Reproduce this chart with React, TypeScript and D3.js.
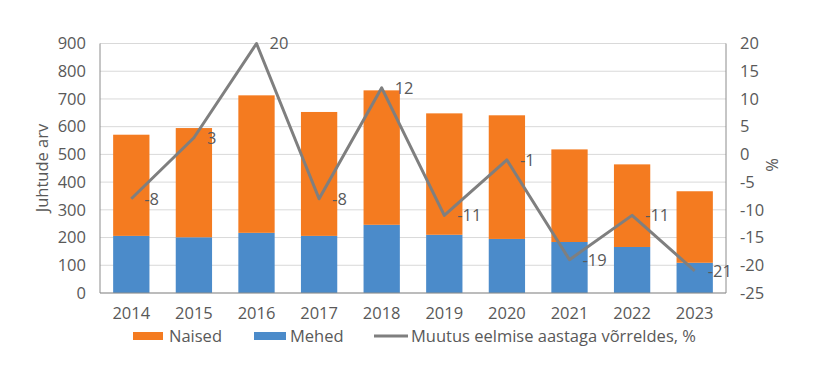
import React from "react";
import * as d3 from "d3";

const years = ["2014","2015","2016","2017","2018","2019","2020","2021","2022","2023"];
const mehed = [206, 201, 217, 206, 246, 210, 195, 184, 166, 109];
const naisedTotal = [571, 595, 713, 653, 731, 648, 641, 518, 464, 367];
const naised = naisedTotal.map((t, i) => t - mehed[i]);
const change = [-8, 3, 20, -8, 12, -11, -1, -19, -11, -21];
const leftTicks = [0, 100, 200, 300, 400, 500, 600, 700, 800, 900];
const rightTicks = [-25, -20, -15, -10, -5, 0, 5, 10, 15, 20];

const W = 827, H = 383;
const M = { left: 100, right: 726, top: 43.5, bottom: 293 };
const FONT = "'Open Sans', sans-serif";
const TXT = "#595959";
const ORANGE = "#F47B20";
const BLUE = "#4B8BCA";
const GREY = "#7F7F7F";

export default function App() {
  const x = d3.scaleBand().domain(years).range([M.left, M.right]).paddingInner(0.42).paddingOuter(0.21);
  const yL = d3.scaleLinear().domain([0, 900]).range([M.bottom, M.top]);
  const yR = d3.scaleLinear().domain([-25, 20]).range([M.bottom, M.top]);
  const cx = (y: string) => (x(y) as number) + x.bandwidth() / 2;
  const line = d3.line<number>().x((_, i) => cx(years[i])).y(d => yR(d));
  const fs = 16.5;
  return (
    <svg width={W} height={H} style={{ position: "absolute", left: 0, top: 0 }} fontFamily={FONT}>
      <rect width={W} height={H} fill="#fff" />
      {leftTicks.map(t => (
        <line key={t} x1={M.left} x2={M.right} y1={yL(t)} y2={yL(t)} stroke="#d9d9d9" strokeWidth={1} />
      ))}
      {years.map((y, i) => (
        <g key={y}>
          <rect x={x(y)} width={x.bandwidth()} y={yL(mehed[i])} height={yL(0) - yL(mehed[i])} fill={BLUE} />
          <rect x={x(y)} width={x.bandwidth()} y={yL(mehed[i] + naised[i])} height={yL(mehed[i]) - yL(mehed[i] + naised[i])} fill={ORANGE} />
        </g>
      ))}
      <line x1={M.left} x2={M.left} y1={M.top} y2={M.bottom} stroke="#8c8c8c" />
      <line x1={M.right} x2={M.right} y1={M.top} y2={M.bottom} stroke="#8c8c8c" />
      <line x1={M.left} x2={M.right} y1={M.bottom} y2={M.bottom} stroke="#8c8c8c" />
      <path d={line(change) || ""} fill="none" stroke={GREY} strokeWidth={3} strokeLinejoin="round" />
      {change.map((c, i) => (
        <text key={i} x={cx(years[i]) + 13} y={yR(c)} dy="0.35em" fontSize={fs} fill={TXT}>{c}</text>
      ))}
      {leftTicks.map(t => (
        <text key={t} x={M.left - 14} y={yL(t)} dy="0.35em" textAnchor="end" fontSize={fs} fill={TXT}>{t}</text>
      ))}
      {rightTicks.map(t => (
        <text key={t} x={M.right + 14} y={yR(t)} dy="0.35em" textAnchor="start" fontSize={fs} fill={TXT}>{t}</text>
      ))}
      {years.map(y => (
        <text key={y} x={cx(y)} y={313} dy="0.35em" textAnchor="middle" fontSize={fs} fill={TXT}>{y}</text>
      ))}
      <text transform={`translate(42,168) rotate(-90)`} textAnchor="middle" dy="0.35em" fontSize={fs} fill={TXT}>Juhtude arv</text>
      <text transform={`translate(772,165) rotate(-90)`} textAnchor="middle" dy="0.35em" fontSize={fs} fill={TXT}>%</text>
      <g>
        <rect x={133} y={332} width={30} height={8} fill={ORANGE} />
        <text x={169} y={336} dy="0.35em" fontSize={fs} fill={TXT}>Naised</text>
        <rect x={254} y={332} width={32} height={8} fill={BLUE} />
        <text x={290} y={336} dy="0.35em" fontSize={fs} fill={TXT}>Mehed</text>
        <line x1={374} x2={408} y1={336} y2={336} stroke={GREY} strokeWidth={3} />
        <text x={411} y={336} dy="0.35em" fontSize={fs} fill={TXT}>Muutus eelmise aastaga võrreldes, %</text>
      </g>
    </svg>
  );
}
